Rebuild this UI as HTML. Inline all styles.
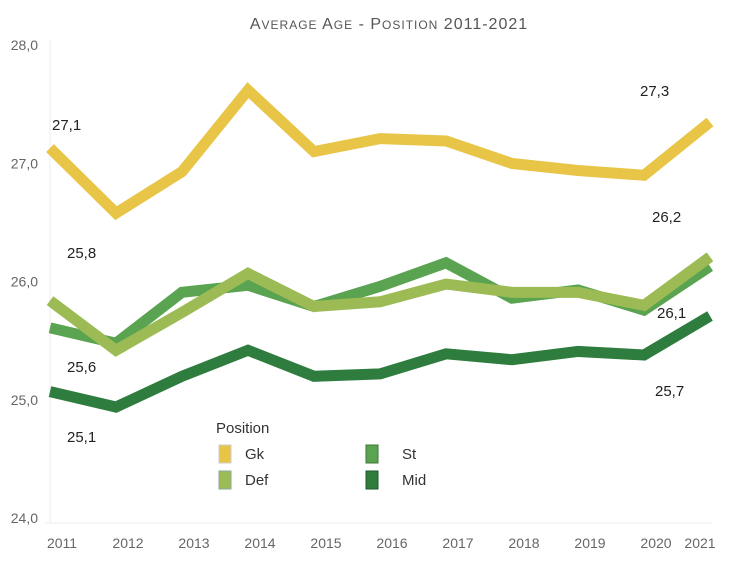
<!DOCTYPE html>
<html><head><meta charset="utf-8"><style>
body{margin:0;background:#fff;font-family:"Liberation Sans",sans-serif}
</style></head><body>
<svg id="chart" width="730" height="558">
<text x="389" y="29" text-anchor="middle" font-size="16" fill="#555" letter-spacing="1">A<tspan font-size="12">VERAGE</tspan> A<tspan font-size="12">GE</tspan> - P<tspan font-size="12">OSITION</tspan> 2011-2021</text>
<line x1="50" y1="40" x2="50" y2="523" stroke="#eee"/>
<line x1="45" y1="523" x2="712" y2="523" stroke="#eee"/>
<g id="yticks"></g><g id="xticks"></g><g id="lines"></g><g id="labels"></g>
<g font-size="15" fill="#333">
<text x="216" y="433" font-size="15" fill="#333">Position</text>
<g><rect x="219" y="445" width="12" height="18" fill="#e8c547" stroke="#ccc"/><text x="245" y="459">Gk</text></g>
<g><rect x="366" y="445" width="12" height="18" fill="#5aa350" stroke="#3d7a36"/><text x="402" y="459">St</text></g>
<g><rect x="219" y="471" width="12" height="18" fill="#9dbb55" stroke="#8a9"/><text x="245" y="485">Def</text></g>
<g><rect x="366" y="471" width="12" height="18" fill="#2e7d3f" stroke="#1d5a2b"/><text x="402" y="485">Mid</text></g>
</g>
</svg>
<script>
const years=["2011","2012","2013","2014","2015","2016","2017","2018","2019","2020","2021"];
const yTicks=[24,25,26,27,28];
const yTickLabels=["24,0","25,0","26,0","27,0","28,0"];
const gk=[27.12,26.57,26.92,27.61,27.09,27.2,27.18,26.99,26.93,26.89,27.34];
const st=[25.6,25.47,25.9,25.96,25.78,25.95,26.15,25.85,25.92,25.75,26.12];
const def=[25.83,25.41,25.73,26.06,25.78,25.82,25.97,25.9,25.9,25.79,26.2];
const mid=[25.06,24.93,25.19,25.41,25.19,25.21,25.38,25.33,25.4,25.37,25.7];
const valueLabels=["27,1","27,3","25,8","26,2","25,6","26,1","25,1","25,7"];
const NS="http://www.w3.org/2000/svg";
function xs(i){return 50+66*i;}
function ys(v){return 44+(28-v)*118.25;}
function mk(t,a,p){const e=document.createElementNS(NS,t);for(const k in a)e.setAttribute(k,a[k]);p.appendChild(e);return e;}
const yt=document.getElementById('yticks');
yTicks.forEach((v,i)=>{const t=mk('text',{x:38,y:ys(v)+6,'text-anchor':'end','font-size':14,fill:'#666'},yt);t.textContent=yTickLabels[i];

});
const xt=document.getElementById('xticks');
years.forEach((y,i)=>{const t=mk('text',{x:i==10?700:xs(i)+12,y:548,'text-anchor':'middle','font-size':14,fill:'#666'},xt);t.textContent=y;

});
const lg=document.getElementById('lines');
[["mid",mid,"#2e7d3f"],["st",st,"#5aa350"],["def",def,"#9dbb55"],["gk",gk,"#e8c547"]].forEach(([n,arr,c])=>{
const p=mk('polyline',{points:arr.map((v,i)=>xs(i)+','+ys(v)).join(' '),fill:'none',stroke:c,'stroke-width':11,'stroke-linejoin':'miter'},lg);

});
const lb=document.getElementById('labels');
[[52,130],[640,96],[67,258],[652,222],[67,372],[657,318],[67,442],[655,396]].forEach(([x,y],i)=>{
const t=mk('text',{x:x,y:y,'font-size':15,fill:'#222'},lb);t.textContent=valueLabels[i];

});
</script>
</body></html>
